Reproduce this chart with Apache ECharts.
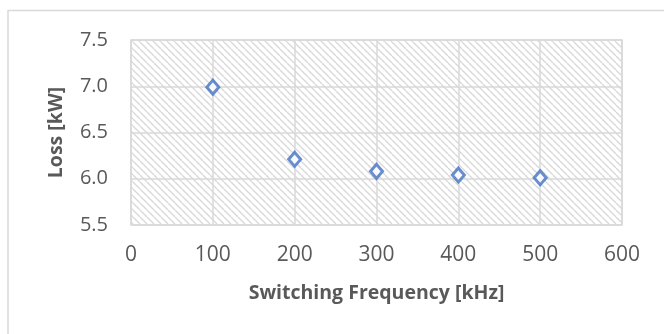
<!DOCTYPE html>
<html>
<head>
<meta charset="utf-8">
<script src="https://cdn.jsdelivr.net/npm/echarts@6/dist/echarts.min.js"></script>
<style>
  html, body { margin: 0; padding: 0; background: #ffffff; }
  #chart { width: 664px; height: 334px; }
</style>
</head>
<body>
<div id="chart"></div>
<script>
// Switching frequency sweep: total loss at each frequency
const frequencies = [100, 200, 300, 400, 500];      // kHz
const lossValues  = [6.99, 6.21, 6.08, 6.04, 6.01];  // kW

const xTitle = 'Switching Frequency [kHz]';
const yTitle = 'Loss [kW]';

// Light downward-diagonal hatch used as the plot background
function makeHatch() {
  const size = 7;
  const c = document.createElement('canvas');
  c.width = size; c.height = size;
  const ctx = c.getContext('2d');
  ctx.fillStyle = '#ffffff';
  ctx.fillRect(0, 0, size, size);
  ctx.strokeStyle = '#d8d8d8';
  ctx.lineWidth = 1.3;
  for (const off of [-size, 0, size]) {
    ctx.beginPath();
    ctx.moveTo(off, 0);
    ctx.lineTo(off + size, size);
    ctx.stroke();
  }
  return c;
}

const textColor = '#595959';
const gridColor = '#d9d9d9';
const fontFamily = '"Open Sans", "Noto Sans", sans-serif';

const chart = echarts.init(document.getElementById('chart'), null, { renderer: 'canvas' });

chart.setOption({
  animation: false,
  backgroundColor: '#ffffff',
  graphic: [{
    type: 'rect',
    shape: { x: 8, y: 10.5, width: 720, height: 400 },
    style: { fill: 'none', stroke: gridColor, lineWidth: 1.5 },
    silent: true,
    z: -10
  }],
  grid: {
    left: 131, right: 42, top: 40, bottom: 109,
    show: true,
    backgroundColor: { image: makeHatch(), repeat: 'repeat' },
    borderColor: gridColor,
    borderWidth: 1.5
  },
  xAxis: {
    type: 'value',
    min: 0, max: 600, interval: 100,
    name: xTitle,
    nameLocation: 'middle',
    nameGap: 58,
    nameTextStyle: { color: textColor, fontFamily, fontSize: 19.5, fontWeight: 'bold' },
    axisLine: { show: false },
    axisTick: { show: false },
    axisLabel: { color: textColor, fontFamily, fontSize: 21, margin: 20 },
    splitLine: { show: true, lineStyle: { color: gridColor, width: 1.5 } }
  },
  yAxis: {
    type: 'value',
    min: 5.5, max: 7.5, interval: 0.5,
    name: yTitle,
    nameLocation: 'middle',
    nameGap: 65,
    nameRotate: 90,
    nameTextStyle: { color: textColor, fontFamily, fontSize: 19.5, fontWeight: 'bold' },
    axisLine: { show: false },
    axisTick: { show: false },
    axisLabel: {
      color: textColor, fontFamily, fontSize: 20, margin: 23,
      formatter: v => v.toFixed(1)
    },
    splitLine: { show: true, lineStyle: { color: gridColor, width: 1.5 } }
  },
  series: [{
    type: 'scatter',
    data: frequencies.map((f, i) => [f, lossValues[i]]),
    symbol: 'diamond',
    symbolSize: [12, 14],
    itemStyle: { color: '#ffffff', borderColor: '#4472C4', borderWidth: 3 },
    z: 5
  }]
});
</script>
</body>
</html>
